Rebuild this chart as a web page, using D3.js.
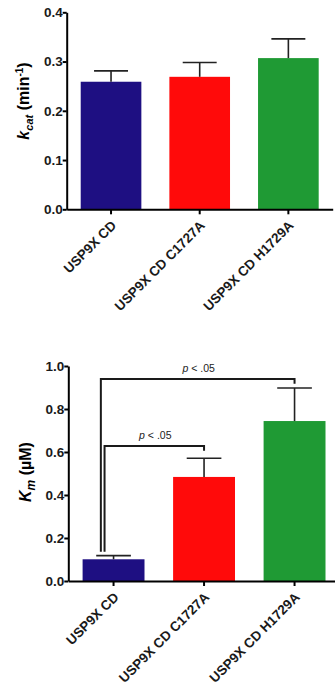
<!DOCTYPE html>
<html>
<head>
<meta charset="utf-8">
<script src="https://cdn.jsdelivr.net/npm/d3@7"></script>
<style>
  body { margin: 0; background: #fff; }
  svg { display: block; font-family: "Liberation Sans", Arial, sans-serif; }
  .axis path, .axis line { stroke: #000; stroke-width: 2; }
  .axis text { font-size: 13.5px; font-weight: bold; fill: #1a1a1a; }
</style>
</head>
<body>
<div id="chart"></div>
<script>
/* Data */
var categories = ["USP9X CD", "USP9X CD C1727A", "USP9X CD H1729A"];
var barColors  = ["#1e0f82", "#ff0a0a", "#1f9a34"];

var kcatValues = [0.259, 0.269, 0.307];
var kcatErrors = [0.022, 0.029, 0.039];
var kcatTicks  = [0.0, 0.1, 0.2, 0.3, 0.4];

var kmValues = [0.101, 0.484, 0.744];
var kmErrors = [0.017, 0.087, 0.154];
var kmTicks  = [0.0, 0.2, 0.4, 0.6, 0.8, 1.0];

// significance brackets: from category, to category, height, label
var kmBrackets = [
    {from: 0, to: 2, level: 0.94, label: ".05"},
    {from: 0, to: 1, level: 0.628, label: ".05"}
];

var svg = d3.select("#chart")
    .append("svg")
        .attr("width", 335)
        .attr("height", 691);

/**
 * Draws one bar chart with error bars
 */
function drawBarChart(g, opts){
    var x = d3.scaleBand()
        .domain(categories)
        .range([opts.left, opts.right])
        .paddingInner(0.316)
        .paddingOuter(0.158);
    var y = d3.scaleLinear()
        .domain([0, opts.max])
        .range([opts.bottom, opts.top]);

    /* Bars */
    g.selectAll(".bar")
        .data(opts.values)
        .enter()
        .append("rect")
            .attr("class", "bar")
            .attr("x", function(d, i){ return x(categories[i]); })
            .attr("y", function(d){ return y(d); })
            .attr("width", x.bandwidth())
            .attr("height", function(d){ return y(0) - y(d); })
            .attr("fill", function(d, i){ return barColors[i]; });

    /* Error bars (upper only) */
    var capHalf = x.bandwidth() * 0.28;
    var err = g.selectAll(".err")
        .data(opts.values)
        .enter()
        .append("g")
            .attr("class", "err")
            .attr("stroke", "#222")
            .attr("stroke-width", 1.6);
    err.append("line")
        .attr("x1", function(d, i){ return x(categories[i]) + x.bandwidth() / 2; })
        .attr("x2", function(d, i){ return x(categories[i]) + x.bandwidth() / 2; })
        .attr("y1", function(d){ return y(d); })
        .attr("y2", function(d, i){ return y(d + opts.errors[i]); });
    err.append("line")
        .attr("x1", function(d, i){ return x(categories[i]) + x.bandwidth() / 2 - capHalf; })
        .attr("x2", function(d, i){ return x(categories[i]) + x.bandwidth() / 2 + capHalf; })
        .attr("y1", function(d, i){ return y(d + opts.errors[i]); })
        .attr("y2", function(d, i){ return y(d + opts.errors[i]); });

    /* Axes */
    var yAxis = d3.axisLeft(y)
        .tickValues(opts.ticks)
        .tickFormat(d3.format(".1f"))
        .tickSize(4)
        .tickSizeOuter(0)
        .tickPadding(0);
    g.append("g")
        .attr("class", "axis")
        .attr("transform", "translate(" + opts.left + ",0)")
        .call(yAxis);

    var xAxis = d3.axisBottom(x)
        .tickSize(5)
        .tickSizeOuter(0);
    var xg = g.append("g")
        .attr("class", "axis")
        .attr("transform", "translate(0," + opts.bottom + ")")
        .call(xAxis);
    xg.selectAll("text")
        .attr("text-anchor", "end")
        .attr("dy", null)
        .attr("y", 0)
        .attr("transform", "translate(6,17) rotate(-45)");

    /* Y label */
    g.append("text")
        .attr("transform", "translate(" + opts.labelX + "," + opts.labelY + ") rotate(-90)")
        .attr("text-anchor", "middle")
        .attr("font-size", 16)
        .attr("font-weight", "bold")
        .call(opts.label);

    return {x: x, y: y};
}

/* k_cat chart */
var kcatG = svg.append("g");
drawBarChart(kcatG, {
    values: kcatValues, errors: kcatErrors, ticks: kcatTicks, max: 0.4,
    left: 66.7, right: 332.7, top: 12.3, bottom: 209.3, labelX: 29, labelY: 101,
    label: function(t){
        t.append("tspan").attr("font-style", "italic").text("k");
        t.append("tspan").attr("font-style", "italic").attr("font-size", 11).attr("dy", 4).text("cat");
        t.append("tspan").attr("dy", -4).text(" (min");
        t.append("tspan").attr("font-size", 10).attr("dy", -6).text("-1");
        t.append("tspan").attr("dy", 6).text(")");
    }
});

/* K_m chart */
var kmG = svg.append("g");
var km = drawBarChart(kmG, {
    values: kmValues, errors: kmErrors, ticks: kmTicks, max: 1.0,
    left: 68.3, right: 339.8, top: 366, bottom: 581, labelX: 31, labelY: 472,
    label: function(t){
        t.append("tspan").attr("font-style", "italic").text("K");
        t.append("tspan").attr("font-style", "italic").attr("font-size", 12).attr("dy", 4).text("m");
        t.append("tspan").attr("dy", -4).text(" (\u00b5M)");
    }
});

/* Significance brackets */
var offsets = [-12.7, -9];
kmBrackets.forEach(function(b, i){
    var x0 = km.x(categories[b.from]) + km.x.bandwidth() / 2 + offsets[i];
    var x1 = km.x(categories[b.to]) + km.x.bandwidth() / 2;
    var yTop = km.y(b.level);
    var yLeft = km.y(kmValues[b.from] + kmErrors[b.from] + 0.018);
    var yRight = km.y(b.level - 0.022);
    kmG.append("path")
        .attr("d", "M" + x0 + "," + yLeft + "V" + yTop + "H" + x1 + "V" + yRight)
        .attr("fill", "none")
        .attr("stroke", "#1a1a1a")
        .attr("stroke-width", 2);
    var lbl = kmG.append("text")
        .attr("x", (x0 + x1) / 2 + 1)
        .attr("y", yTop - 7)
        .attr("text-anchor", "middle")
        .attr("font-size", 10.5)
        .attr("fill", "#222");
    lbl.append("tspan").attr("font-style", "italic").text("p");
    lbl.append("tspan").text(" < " + b.label);
});
</script>
</body>
</html>
